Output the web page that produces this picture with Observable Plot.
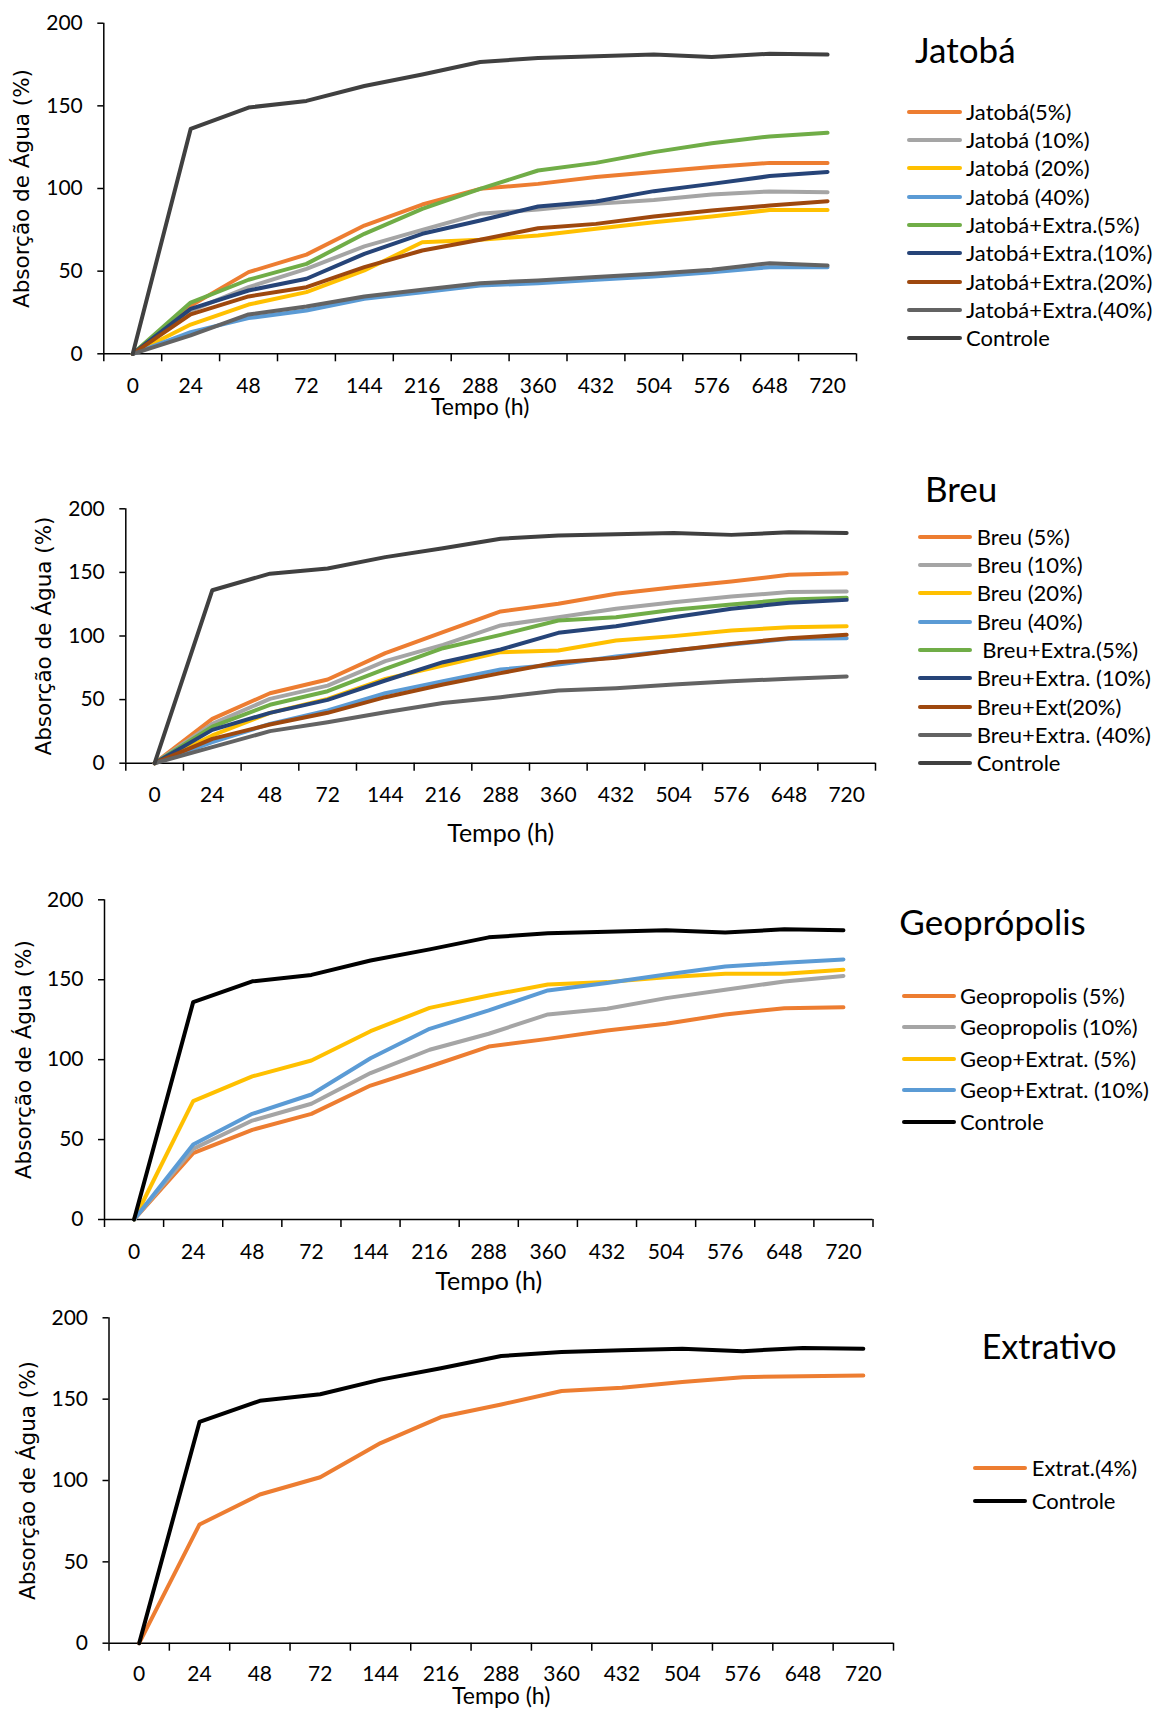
<!DOCTYPE html>
<html><head><meta charset="utf-8">
<script src="https://cdn.jsdelivr.net/npm/d3@7"></script>
<script src="https://cdn.jsdelivr.net/npm/@observablehq/plot@0.6"></script>
<style>
body{margin:0;background:#fff;}
#root{position:relative;width:1155px;height:1710px;overflow:hidden;font-family:Lato,sans-serif;color:#000;}
.chart{position:absolute;left:0;}
.ltitle{position:absolute;white-space:nowrap;}
.lrow{position:absolute;display:flex;align-items:center;white-space:pre;font-size:22px;}
.sw{height:4px;border-radius:2px;flex:none;}
</style></head><body><div id="root"></div>
<script>
// ---- data ----
const TEMPOS = ["0","24","48","72","144","216","288","360","432","504","576","648","720"];
const Y_TICKS = [0, 50, 100, 150, 200];
const CONTROLE = [0,136,149,153,162,169,176.5,179,180,181,179.5,181.5,181];

const JATOBA_NAMES = ["Jatobá(5%)","Jatobá (10%)","Jatobá (20%)","Jatobá (40%)","Jatobá+Extra.(5%)","Jatobá+Extra.(10%)","Jatobá+Extra.(20%)","Jatobá+Extra.(40%)","Controle"];
const JATOBA_5 = [0,29,49.4,60,77.6,90.3,99.8,102.8,106.9,110,113,115.5,115.5];
const JATOBA_10 = [0,26,40.3,51.4,65,75,84.7,87.3,90.7,93.1,96.4,98.2,97.8];
const JATOBA_20 = [0,17.7,29.8,37.3,50.4,67.5,69,71.6,75.6,79.6,83,87,87];
const JATOBA_40 = [0,13.1,21.6,26.2,33.3,37.3,41.3,42.7,44.8,46.8,49.4,52.4,52.4];
const JATOBA_EXT_5 = [0,31,44.8,54.4,72.6,87.7,99.8,110.9,115.5,122,127.4,131.5,133.7];
const JATOBA_EXT_10 = [0,27.2,38.3,45.4,60.5,72.6,80.6,89.1,92.1,98.4,102.8,107.5,110];
const JATOBA_EXT_20 = [0,23.8,34.7,40.3,52.4,62.5,69,76,78.6,83,86.7,89.7,92.3];
const JATOBA_EXT_40 = [0,11.1,23.8,28.6,34.7,38.7,42.7,44.4,46.4,48.4,50.8,54.8,53.4];

const BREU_NAMES = ["Breu (5%)","Breu (10%)","Breu (20%)","Breu (40%)"," Breu+Extra.(5%)","Breu+Extra. (10%)","Breu+Ext(20%)","Breu+Extra. (40%)","Controle"];
const BREU_5 = [0,34.9,55,65.8,86.5,103,119.3,125.3,133.2,138.4,142.9,148.1,149.4];
const BREU_10 = [0,30.9,50.6,61,80.2,93,108.3,114.8,121.4,126.6,131,134.5,135];
const BREU_20 = [0,21.8,39.6,50.6,66.3,76.8,87.3,88.6,96.5,99.9,104.3,106.9,107.7];
const BREU_40 = [0,16.5,30.9,41.4,55,64.5,73.7,77.6,83.9,88.6,93.3,97.8,98.3];
const BREU_EXT_5 = [0,28.8,45.9,56.6,74.2,90.4,100.9,112.2,114.8,120.6,124.8,128.7,130];
const BREU_EXT_10 = [0,26.2,39.6,49.8,65,79.4,89.4,102.5,107.7,114.8,121.4,126.1,128.4];
const BREU_EXT_20 = [0,19.1,30.4,39.6,51.9,61.9,70.8,79.4,82.8,88.6,93.8,98.3,100.9];
const BREU_EXT_40 = [0,12.6,25.2,32.2,40.1,47.4,51.9,57.1,59,61.9,64.5,66.3,68.2];

const GEO_NAMES = ["Geopropolis (5%)","Geopropolis (10%)","Geop+Extrat. (5%)","Geop+Extrat. (10%)","Controle"];
const GEO_5 = [0,41.5,56.1,66.1,83.8,95.7,108.2,113,118.2,122.4,128.3,132.2,132.8];
const GEO_10 = [0,44.2,61.9,72.4,91.6,106.2,116.2,128.3,131.8,138.5,143.7,148.9,152.4];
const GEO_EXT_5 = [0,74,89.5,99.5,117.8,132.4,140.1,147,148.5,151.6,153.7,153.7,156.2];
const GEO_EXT_10 = [0,46.9,66.1,78.2,100.9,119.3,130.8,143.3,147.9,153.3,158.3,160.6,162.7];

const EXTRAT_NAMES = ["Extrat.(4%)","Controle"];
const EXTRAT_4 = [0,73,91.4,102,123,139,146.7,155,157,160.5,163.5,164.1,164.5];

const COLORS_9 = ["#ED7D31","#A5A5A5","#FFC000","#5B9BD5","#70AD47","#264478","#9E480E","#636363","#404040"];
const COLORS_GEO = ["#ED7D31","#A5A5A5","#FFC000","#5B9BD5","#000000"];
const COLORS_EXTRAT = ["#ED7D31","#000000"];

const TITLES = ["Jatobá","Breu","Geoprópolis","Extrativo"];
const X_TITLE = "Tempo (h)";
const Y_TITLE = "Absorção de Água (%)";

// ---- layout ----
const root = document.getElementById("root");
const W = 900;

function makeChart(c) {
  const rows = [];
  c.values.forEach((vals, k) => vals.forEach((v, i) => rows.push({serie: c.names[k], i, v})));
  const svg = Plot.plot({
    width: W, height: c.height,
    marginLeft: c.left, marginRight: W - c.right,
    marginTop: c.y200 - c.top, marginBottom: c.top + c.height - c.y0,
    style: {fontFamily: "Lato, sans-serif", fontSize: "21px", color: "#000", background: "transparent", overflow: "visible"},
    x: {domain: [-0.5, TEMPOS.length - 0.5]},
    y: {domain: [0, 200]},
    color: {domain: c.names, range: c.colors},
    marks: [
      Plot.axisY({ticks: Y_TICKS, tickSize: 6, tickPadding: 15, fontSize: 21, tickFormat: d => String(d), label: null, strokeWidth: 1.5}),
      Plot.axisX({ticks: d3.range(TEMPOS.length + 1).map(k => k - 0.5), tickSize: 8, tickFormat: () => "", label: null, strokeWidth: 1.5}),
      Plot.axisX({ticks: d3.range(TEMPOS.length), tickSize: 0, tickPadding: c.labelPad, tickFormat: i => TEMPOS[i], label: null, fontSize: 21}),
      Plot.ruleY([0], {stroke: "#000", strokeWidth: 1.5}),
      Plot.ruleX([-0.5], {stroke: "#000", strokeWidth: 1.5}),
      Plot.line(rows, {x: "i", y: "v", z: "serie", stroke: "serie", strokeWidth: 4, strokeLinejoin: "round", strokeLinecap: "round"}),
      Plot.text([X_TITLE], {text: d => d, frameAnchor: "bottom", lineAnchor: "middle", dy: c.titleDy, fontSize: c.titleFs || 25}),
      Plot.text([Y_TITLE], {text: d => d, frameAnchor: "left", textAnchor: "middle", lineAnchor: "middle", rotate: -90, dx: c.yDx, fontSize: 21.5, fontFamily: "DejaVu Sans"})
    ]
  });
  svg.classList.add("chart");
  svg.style.top = c.top + "px";
  root.appendChild(svg);

  // legend
  const lg = c.legend;
  const t = document.createElement("div");
  t.className = "ltitle";
  t.textContent = c.title;
  t.style.fontSize = lg.titleFs + "px";
  t.style.lineHeight = lg.titleFs + "px";
  t.style.left = lg.titleX + "px";
  t.style.top = (lg.titleBase - 0.887 * lg.titleFs) + "px";
  root.appendChild(t);
  c.names.forEach((n, k) => {
    const r = document.createElement("div");
    r.className = "lrow";
    const cy = lg.row0 + k * lg.step;
    r.style.left = lg.sx1 + "px";
    r.style.top = (cy - 14) + "px";
    r.style.height = "28px";
    r.style.lineHeight = "28px";
    const sw = document.createElement("div");
    sw.className = "sw";
    sw.style.width = (lg.sx2 - lg.sx1) + "px";
    sw.style.background = c.colors[k];
    sw.style.marginRight = (lg.tx - lg.sx2) + "px";
    const sp = document.createElement("span");
    sp.textContent = n;
    r.appendChild(sw); r.appendChild(sp);
    root.appendChild(r);
  });
}

makeChart({
  title: TITLES[0], names: JATOBA_NAMES, colors: COLORS_9,
  values: [JATOBA_5, JATOBA_10, JATOBA_20, JATOBA_40, JATOBA_EXT_5, JATOBA_EXT_10, JATOBA_EXT_20, JATOBA_EXT_40, CONTROLE],
  top: 0, height: 430, left: 103.3, right: 856, y200: 22.7, y0: 353.3,
  labelPad: 24, titleDy: 54, titleFs: 23, yDx: -81.3,
  legend: {titleFs: 35, titleX: 915, titleBase: 63, row0: 111.7, step: 28.3, sx1: 906.7, sx2: 961.7, tx: 966}
});
makeChart({
  title: TITLES[1], names: BREU_NAMES, colors: COLORS_9,
  values: [BREU_5, BREU_10, BREU_20, BREU_40, BREU_EXT_5, BREU_EXT_10, BREU_EXT_20, BREU_EXT_40, CONTROLE],
  top: 460, height: 390, left: 125.3, right: 875, y200: 508.3, y0: 762.7,
  labelPad: 24, titleDy: 70.6, yDx: -81.3,
  legend: {titleFs: 35, titleX: 925, titleBase: 502, row0: 536.7, step: 28.3, sx1: 918, sx2: 971.7, tx: 976.7}
});
makeChart({
  title: TITLES[2], names: GEO_NAMES, colors: COLORS_GEO,
  values: [GEO_5, GEO_10, GEO_EXT_5, GEO_EXT_10, CONTROLE],
  top: 870, height: 430, left: 104, right: 872.5, y200: 899.3, y0: 1219,
  labelPad: 24.3, titleDy: 62.7, yDx: -80,
  legend: {titleFs: 35, titleX: 899.3, titleBase: 935, row0: 995.7, step: 31.5, sx1: 901.7, sx2: 955.7, tx: 960}
});
makeChart({
  title: TITLES[3], names: EXTRAT_NAMES, colors: COLORS_EXTRAT,
  values: [EXTRAT_4, CONTROLE],
  top: 1300, height: 410, left: 108.5, right: 893, y200: 1317.3, y0: 1642.7,
  labelPad: 23, titleDy: 53.5, titleFs: 23, yDx: -81,
  legend: {titleFs: 34, titleX: 981.7, titleBase: 1359.3, row0: 1467.7, step: 33.3, sx1: 972.7, sx2: 1026.7, tx: 1031.7}
});
</script></body></html>
